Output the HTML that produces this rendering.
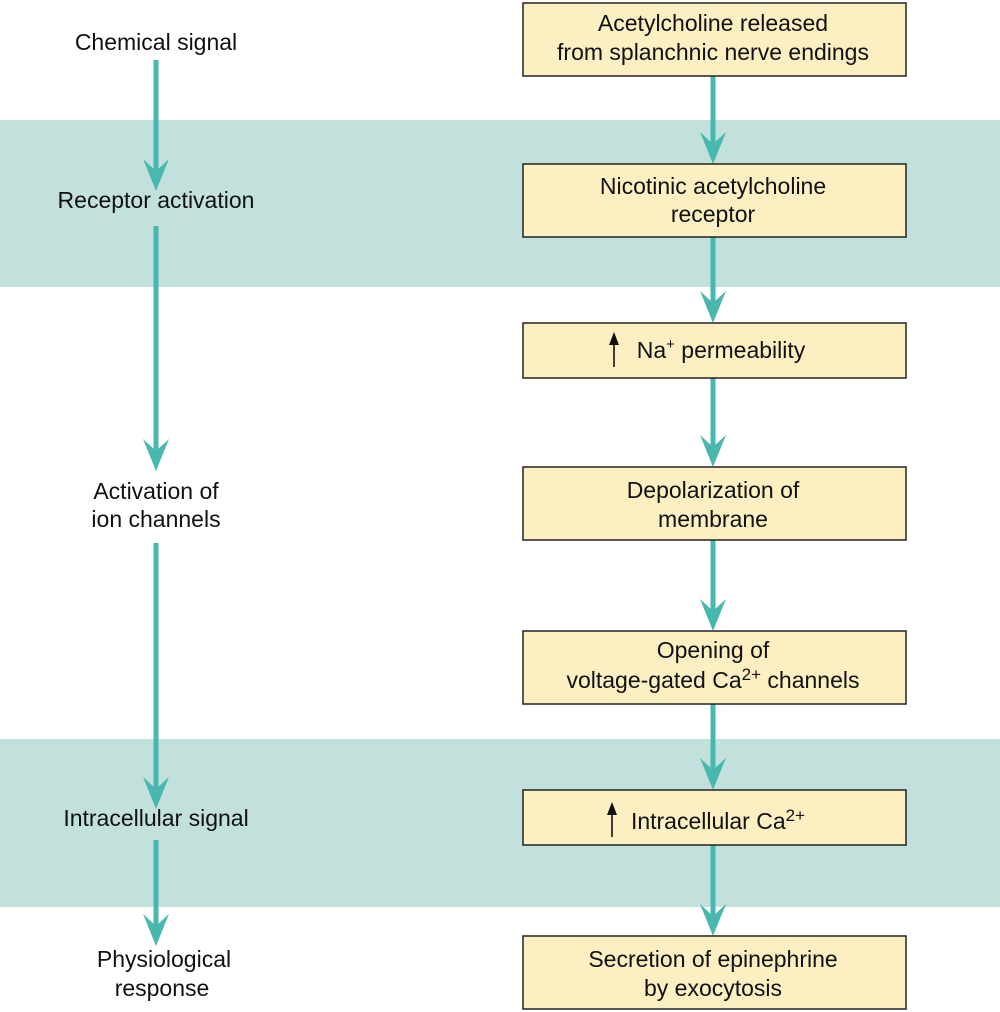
<!DOCTYPE html>
<html><head><meta charset="utf-8"><style>
html,body{margin:0;padding:0;background:#fff;}
svg{display:block;}
text{font-family:"Liberation Sans",Arial,sans-serif;font-size:23px;fill:#111;text-anchor:middle;}
</style></head><body>
<svg width="1000" height="1012" viewBox="0 0 1000 1012" xmlns="http://www.w3.org/2000/svg">
<defs>
<path id="ah" d="M0,0 L-13,-32 L0,-20 L13,-32 Z" fill="#48b7ae"/>
</defs>
<rect x="0" y="120" width="1000" height="167" fill="#c2e1dd"/>
<rect x="0" y="739" width="1000" height="168" fill="#c2e1dd"/>

<g stroke="#48b7ae" stroke-width="5">
<line x1="156" y1="60" x2="156" y2="175"/>
<line x1="156" y1="226" x2="156" y2="455"/>
<line x1="156" y1="543" x2="156" y2="793"/>
<line x1="156" y1="840" x2="156" y2="930"/>
<line x1="713" y1="76" x2="713" y2="150"/>
<line x1="713" y1="237" x2="713" y2="309"/>
<line x1="713" y1="378" x2="713" y2="453"/>
<line x1="713" y1="540" x2="713" y2="617"/>
<line x1="713" y1="704" x2="713" y2="776"/>
<line x1="713" y1="845" x2="713" y2="922"/>
</g>
<use href="#ah" x="156" y="191"/>
<use href="#ah" x="156" y="471"/>
<use href="#ah" x="156" y="809"/>
<use href="#ah" x="156" y="946"/>
<use href="#ah" x="713" y="164"/>
<use href="#ah" x="713" y="323"/>
<use href="#ah" x="713" y="467"/>
<use href="#ah" x="713" y="631"/>
<use href="#ah" x="713" y="790"/>
<use href="#ah" x="713" y="936"/>

<g fill="#fcefc1" stroke="#222" stroke-width="1.5">
<rect x="523" y="3" width="383" height="73"/>
<rect x="523" y="164" width="383" height="73"/>
<rect x="523" y="323" width="383" height="55"/>
<rect x="523" y="467" width="383" height="73"/>
<rect x="523" y="631" width="383" height="73"/>
<rect x="523" y="790" width="383" height="55"/>
<rect x="523" y="936" width="383" height="73"/>
</g>

<text x="156" y="50">Chemical signal</text>
<text x="156" y="208">Receptor activation</text>
<text x="156" y="499">Activation of</text>
<text x="156" y="527">ion channels</text>
<text x="156" y="826">Intracellular signal</text>
<text x="164" y="967">Physiological</text>
<text x="162" y="996">response</text>

<text x="713" y="31">Acetylcholine released</text>
<text x="713" y="60">from splanchnic nerve endings</text>
<text x="713" y="194">Nicotinic acetylcholine</text>
<text x="713" y="222">receptor</text>
<text x="721" y="358">Na<tspan font-size="15" dy="-9">+</tspan><tspan dy="9"> permeability</tspan></text>
<text x="713" y="498">Depolarization of</text>
<text x="713" y="527">membrane</text>
<text x="713" y="658">Opening of</text>
<text x="713" y="688">voltage-gated Ca<tspan font-size="17" dy="-8">2+</tspan><tspan dy="8"> channels</tspan></text>
<text x="718" y="829">Intracellular Ca<tspan font-size="17" dy="-8">2+</tspan></text>
<text x="713" y="967">Secretion of epinephrine</text>
<text x="713" y="996">by exocytosis</text>

<g stroke="#111" stroke-width="1.6">
<line x1="614" y1="340" x2="614" y2="367"/>
<line x1="612" y1="810" x2="612" y2="837"/>
</g>
<path d="M614,332 L609,345 L619,345 Z" fill="#111"/>
<path d="M612,802 L607,815 L617,815 Z" fill="#111"/>
</svg>
</body></html>
